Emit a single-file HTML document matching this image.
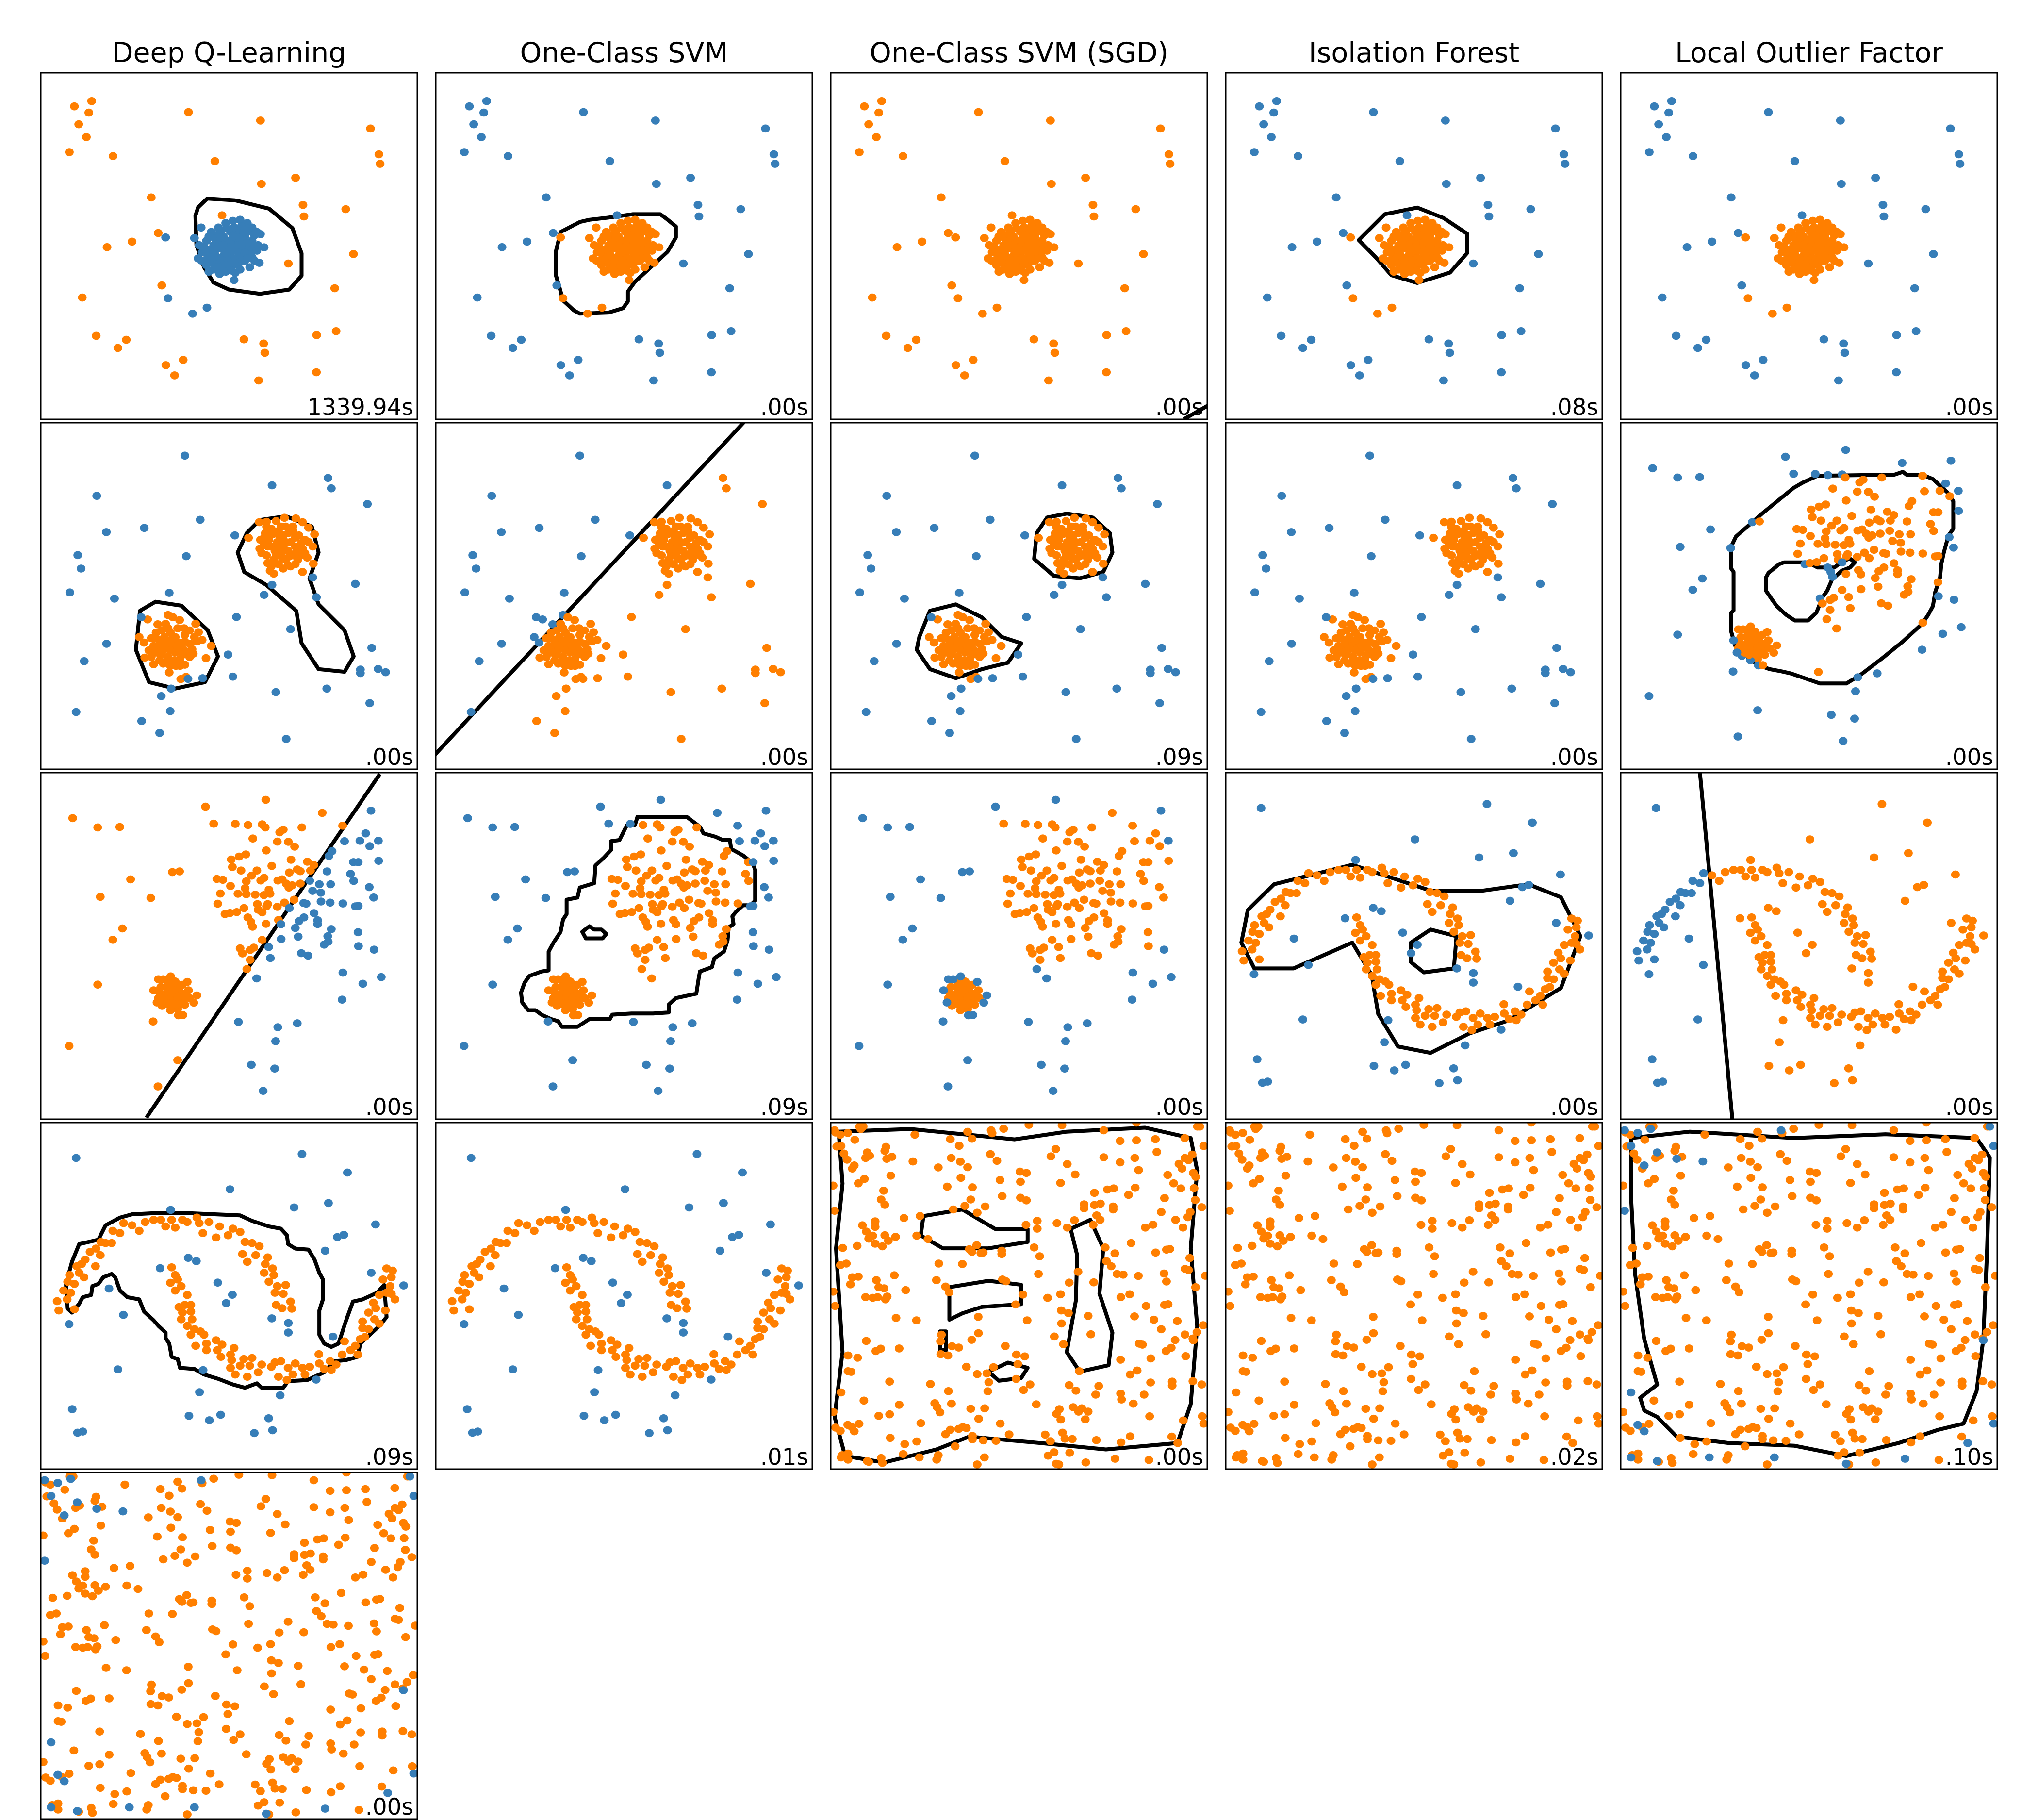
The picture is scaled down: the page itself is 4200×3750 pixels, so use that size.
<!DOCTYPE html>
<html><head><meta charset="utf-8"><title>Outlier detection comparison</title>
<style>
html,body{margin:0;padding:0;background:#fff;}
svg{display:block;}
text{font-family:"DejaVu Sans","Liberation Sans",sans-serif;fill:#000;}
</style></head>
<body>
<svg id="fig" xmlns="http://www.w3.org/2000/svg" width="4200" height="3750" viewBox="0 0 4200 3750">
<rect x="0" y="0" width="4200" height="3750" fill="#fff"/>
<text x="472" y="128" font-size="57" text-anchor="middle">Deep Q-Learning</text>
<text x="1286" y="128" font-size="57" text-anchor="middle">One-Class SVM</text>
<text x="2100" y="128" font-size="57" text-anchor="middle">One-Class SVM (SGD)</text>
<text x="2914" y="128" font-size="57" text-anchor="middle">Isolation Forest</text>
<text x="3728" y="128" font-size="57" text-anchor="middle">Local Outlier Factor</text>
<g id="panels"></g>
</svg>
<script>
// ---- data (units: 0..1568 along each axis; y measured downward) ----
const d1Inliers=[[640,748],[660,780],[672,812],[655,840],[690,870],[700,900],[745,910],[760,890],[720,860],[705,820],[690,760],[710,720],[740,700],[770,680],[800,670],[830,665],[860,680],[880,700],[900,720],[915,730],[930,790],[905,780],[880,760],[850,740],[820,720],[790,720],[760,740],[740,770],[760,800],[790,820],[820,800],[850,790],[870,820],[890,850],[910,860],[850,850],[820,870],[790,880],[750,860],[780,760],[810,760],[730,800],[700,800],[760,830],[830,830],[800,790],[780,850],[860,720],[740,730],[720,780],[668,700],[870,880],[810,905],[632,1090],[692,1063],[530,1020],[805,938],[520,745],[775,780],[745,840],[810,840],[840,760],
[700,740],[725,750],[750,715],[775,705],[805,700],[835,695],[865,705],[890,735],[895,790],[875,790],[860,770],[835,775],[815,780],[790,770],[765,765],[745,790],[720,810],[715,835],[735,845],[770,815],[795,805],[825,815],[850,815],[880,835],[860,840],[835,855],[805,860],[770,870],[740,880],[720,890],[770,900],[795,895],[830,890],[680,790],[670,850],[695,845],[750,745],[820,745],[845,720],[800,740],[780,790],[760,780],[730,830],[685,815],[900,805]];
const d1Outliers=[[140,152],[212,128],[200,180],[158,233],[190,291],[119,359],[301,377],[615,178],[915,216],[725,400],[919,503],[1061,475],[1373,252],[1408,369],[1413,412],[460,564],[1092,598],[1096,650],[1270,617],[489,725],[380,764],[276,789],[1302,820],[1031,863],[1224,975],[173,1017],[504,962],[231,1190],[356,1208],[321,1245],[846,1206],[928,1225],[933,1267],[1149,1187],[1230,1169],[593,1299],[521,1323],[557,1369],[1148,1355],[907,1392],[755,645]];
const d2Inliers=[[910,450],[940,448],[980,445],[1015,430],[1062,433],[1090,450],[1115,475],[1140,505],[1133,560],[1110,610],[1135,638],[1090,675],[1040,650],[1030,645],[970,683],[955,670],[945,635],[920,590],[912,570],[915,530],[935,500],[865,521],[960,480],[990,490],[1020,470],[1050,490],[1075,510],[1100,530],[1090,570],[1070,620],[1050,600],[1020,620],[990,640],[980,600],[960,560],[950,530],[985,540],[1010,560],[1040,540],[1060,560],[1000,590],[1030,580],[1010,510],[970,620],[1080,600],
[940,470],[965,505],[995,515],[1030,500],[1060,520],[1085,545],[1065,585],[1035,605],[1005,610],[975,580],[945,560],[930,545],[940,600],[990,570],[1020,540],[1050,470],[1000,470],[960,650],[1010,660],[1060,640],[1100,590],[1115,540],[930,520],[1000,540],
[410,970],[445,890],[530,870],[550,880],[578,893],[487,912],[520,910],[597,930],[645,910],[657,948],[672,983],[710,1010],[688,1065],[635,1045],[600,1095],[563,1100],[535,1130],[470,1093],[433,1063],[450,1030],[430,995],[460,975],[480,950],[505,990],[540,950],[560,970],[600,960],[620,1000],[590,1020],[560,1040],[530,1060],[500,1050],[490,1020],[520,1010],[550,1005],[580,1070],[510,1090],[620,1060],[650,990],[470,1010],[583,1160],[605,1150],
[505,940],[530,930],[570,930],[620,940],[640,970],[600,990],[575,995],[540,985],[515,970],[495,1000],[480,1040],[510,1030],[540,1030],[570,1020],[605,1035],[630,1025],[590,1050],[555,1075],[525,1085],[495,1075],[460,1060],[540,1100],[580,1100],[480,975]];
const d2Outliers=[[600,149],[963,283],[1196,250],[1210,297],[1360,368],[233,331],[664,439],[431,476],[273,495],[808,510],[154,599],[168,660],[606,604],[121,768],[307,796],[535,770],[963,734],[930,779],[1133,700],[1148,790],[1310,729],[418,880],[815,879],[1040,934],[274,1000],[181,1079],[780,1049],[1378,1019],[1331,1117],[1331,1133],[1405,1114],[1436,1129],[613,1159],[674,1156],[800,1149],[543,1203],[502,1237],[979,1219],[1191,1203],[1370,1269],[147,1309],[539,1305],[420,1350],[495,1404],[1022,1431]];
const d3Inliers=[[500,970],[530,950],[560,945],[590,960],[615,985],[620,1020],[600,1050],[570,1070],[540,1075],[505,1055],[490,1020],[495,995],[530,990],[560,990],[590,1000],[580,1030],[550,1030],[520,1025],[545,1010],[570,1015],[515,1040],[555,965],[600,1020],[525,970],[575,975],[605,1000],[510,1010],[535,1050],[565,1050],[585,1045],[550,985],
[720,231],[810,232],[863,237],[922,234],[935,248],[995,270],[1010,258],[1087,248],[1172,182],[1257,240],[1353,275],[1265,310],[1329,308],[1370,333],[1407,399],[883,298],[985,312],[1031,313],[1057,335],[939,352],[1213,355],[1200,377],[854,370],[826,380],[793,393],[798,427],[834,443],[900,443],[962,422],[1042,394],[1110,403],[1137,418],[1123,443],[1068,438],[1035,452],[1081,446],[1192,447],[1302,405],[1322,405],[1290,458],[1303,490],[1368,518],[1386,565],[733,481],[758,485],[790,513],[856,492],[878,466],[916,488],[930,476],[987,488],[1005,483],[1022,502],[1047,510],[1081,502],[1120,489],[1160,505],[1207,505],[1132,535],[1166,543],[748,547],[821,548],[851,523],[856,550],[893,552],[929,554],[955,548],[950,530],[1033,520],[737,593],[767,640],[788,635],[816,631],[846,613],[902,595],[905,620],[940,605],[945,595],[985,607],[1015,588],[1035,613],[1055,575],[1095,590],[1105,593],[1167,583],[1205,588],[1258,592],[1310,605],[1322,603],[862,655],[875,675],[882,697],[922,632],[938,684],[990,667],[1000,686],[1060,703],[1075,672],[1096,655],[1138,636],[1153,668],[1153,685],[1210,708],[1195,740],[1197,765],[1180,778],[1321,722],[1323,785],[922,757],[1001,753],[1072,742],[949,789],[830,795],[840,818],[872,802],[887,792],[872,847],[956,839],[1085,817],[1113,828]];
const d3Outliers=[[133,206],[237,248],[329,246],[686,154],[937,123],[1375,172],[1406,308],[548,450],[578,447],[374,483],[248,562],[458,567],[340,705],[300,756],[1388,801],[858,889],[899,931],[1258,905],[1341,955],[1418,925],[1255,1027],[237,959],[468,1126],[823,1128],[987,1152],[1068,1134],[978,1215],[118,1237],[570,1301],[877,1322],[974,1339],[488,1420],[926,1440],[490,935],[510,935],[541,922],[610,947],[470,985],[650,1008],[484,1040],[637,1041],[573,1098],[592,1097]];
const d4Inliers=[[68,808],[75,850],[110,800],[125,770],[120,690],[112,720],[140,730],[150,650],[170,640],[180,700],[205,585],[230,570],[248,600],[250,540],[270,545],[295,545],[300,490],[330,500],[345,455],[380,465],[410,490],[435,450],[470,440],[500,440],[520,470],[545,440],[560,475],[590,440],[610,450],[650,430],[660,455],[675,500],[700,450],[730,520],[745,470],[780,510],[800,480],[830,495],[850,540],[880,545],[895,600],[910,560],[860,630],[840,595],[945,610],[935,640],[965,660],[930,680],[970,690],[950,720],[985,740],[1020,735],[975,770],[1010,775],[980,825],[1040,810],[1005,840],[1045,842],[228,650],[185,620],[95,760],[160,680],[140,845],
[545,655],[560,690],[540,725],[570,710],[585,740],[560,760],[610,780],[575,835],[600,825],[625,825],[590,860],[625,855],[585,890],[630,890],[610,920],[640,935],[625,960],[665,945],[680,960],[645,1010],[690,1000],[690,1030],[730,985],[735,1030],[755,1005],[750,1060],[790,1050],[805,1020],[795,1075],[845,1070],[830,1100],[880,1065],[870,1100],[860,1150],[790,1110],[810,1140],[920,1095],[905,1130],[960,1105],[975,1085],[990,1150],[1000,1080],[1030,1110],[1025,1165],[1060,1090],[1050,1140],[1090,1110],[1120,1105],[1100,1140],[1160,1090],[1180,1115],[1205,1080],[1230,1095],[1210,1120],[1255,1050],[1290,1030],[1265,990],[1310,1010],[1320,1050],[1330,980],[1350,970],[1340,930],[1365,935],[1340,900],[1365,860],[1390,890],[1410,910],[1395,840],[1435,850],[1385,815],[1410,780],[1440,770],[1460,775],[1475,800],[1425,710],[1455,740],[1440,660],[1465,670],[1460,700],[1158,1048]];
const d4Outliers=[[147,160],[1088,142],[1277,226],[788,302],[1198,364],[1055,384],[1394,461],[1235,518],[1262,508],[1184,580],[614,612],[648,627],[497,659],[1376,680],[737,724],[798,779],[772,817],[284,751],[344,870],[118,912],[962,886],[1031,907],[1031,950],[1217,969],[1511,737],[321,1117],[676,1120],[1147,1163],[661,1220],[997,1234],[131,1297],[617,1327],[702,1347],[749,1322],[949,1338],[153,1403],[175,1398],[889,1405],[965,1392],[541,395]];
const d5Inliers=[[20,45],[40,55],[100,78],[120,18],[135,18],[25,108],[55,140],[68,168],[90,208],[350,55],[230,110],[225,128],[255,155],[145,160],[162,150],[250,240],[140,255],[115,275],[10,285],[220,308],[210,348],[225,372],[498,75],[535,105],[570,42],[588,73],[502,160],[540,177],[570,202],[448,203],[542,250],[485,290],[590,293],[583,348],[558,377],[510,393],[643,380],[610,408],[672,48],[720,28],[665,143],[692,173],[705,260],[714,333],[825,10],[963,12],[788,222],[815,228],[790,268],[790,340],[815,352],[937,120],[917,153],[985,188],[1018,235],[957,273],[1137,35],[1273,0],[1205,83],[1273,80],[1352,75],[1474,70],[1527,18],[1137,157],[1205,180],[1266,160],[1282,215],[1358,133],[1450,187],[1475,160],[1505,145],[1490,170],[1463,208],[1403,237],[1428,275],[1510,228],[1520,245],[1513,297],[1458,298],[1268,295],[1240,327],[1178,298],[1152,303],[1098,318],[1055,370],[1055,388],[1098,373],[1123,367],[1176,380],[1176,393],[1390,342],[1518,350],[1545,383],[1376,405],[1497,405],[1487,428],[1436,440],[1467,475],[1310,475],[1342,462],[1107,420],[1122,440],[1093,463],[1015,442],[985,475],[942,455],[860,445],[860,480],[813,463],[305,432],[372,423],[185,447],[185,472],[132,465],[148,493],[175,512],[158,525],[185,548],[225,510],[240,535],[215,560],[270,517],[110,558],[50,567],[358,512],[405,527],[40,645],[65,638],[608,555],[577,573],[588,585],[625,590],[635,588],[712,580],[712,595],[847,565],[870,605],[1143,565],[1183,592],[1251,545],[1353,588],[1398,575],[1412,572],[1495,613],[1148,627],[1168,650],[1192,685],[1218,688],[1281,694],[1475,662],[1490,667],[1388,683],[1398,719],[1519,745],[1560,693],[450,638],[548,640],[1030,675],[865,685],[993,724],[1095,723],[90,700],[115,697],[82,732],[190,713],[200,745],[222,750],[265,691],[312,758],[440,713],[478,742],[493,768],[715,710],[730,718],[145,790],[175,793],[195,790],[235,787],[228,800],[10,765],[18,830],[800,778],[770,823],[903,793],[957,777],[1208,790],[1245,777],[1313,830],[1390,825],[1405,822],[272,884],[357,895],[614,879],[818,895],[960,850],[990,862],[1072,875],[1265,877],[1346,892],[1443,898],[1376,935],[1551,917],[961,909],[461,960],[457,990],[615,953],[587,983],[148,988],[188,1034],[208,1023],[285,1022],[505,1012],[533,1018],[458,1048],[488,1054],[727,1011],[931,968],[969,1003],[1083,958],[1285,1000],[1298,1005],[1396,1034],[1418,1019],[1434,984],[1475,959],[1508,977],[1525,948],[72,1054],[112,1064],[1478,1057],[1333,1067],[1207,1073],[773,1050],[808,1058],[779,1093],[565,1105],[610,1138],[650,1135],[678,1107],[658,1175],[654,1216],[72,1125],[85,1128],[245,1172],[415,1183],[490,1215],[772,1160],[830,1185],[803,1210],[1035,1125],[993,1188],[1021,1213],[1116,1192],[1103,1231],[1247,1140],[1276,1122],[1332,1176],[1422,1172],[1422,1190],[1508,1170],[1545,1185],[138,1258],[285,1277],[433,1270],[443,1288],[455,1311],[503,1272],[583,1295],[641,1293],[616,1340],[856,1275],[1207,1226],[1211,1253],[1305,1231],[1260,1272],[952,1297],[940,1318],[958,1344],[1010,1288],[1032,1308],[1045,1293],[1072,1308],[1060,1343],[10,1310],[20,1380],[40,1395],[88,1378],[118,1363],[200,1327],[245,1320],[375,1360],[706,1362],[478,1410],[498,1390],[533,1386],[550,1378],[565,1382],[590,1418],[590,1433],[635,1438],[688,1440],[743,1411],[893,1412],[915,1442],[965,1403],[975,1430],[1006,1432],[1106,1437],[1209,1447],[1247,1420],[1328,1329],[1468,1348],[1547,1329],[1420,1421],[248,1427],[308,1455],[358,1443],[518,1465],[48,1505],[72,1498],[72,1525],[158,1535],[210,1518],[215,1540],[302,1500],[441,1525],[448,1505],[610,1547],[905,1507],[930,1492],[950,1547],[995,1494],[1062,1538],[1325,1527]];
const d5Outliers=[[16,35],[71,47],[125,29],[43,106],[152,135],[233,164],[98,194],[16,399],[43,1221],[71,1368],[98,1397],[43,1515],[152,1532],[369,1515],[640,1515],[939,1544],[1537,18],[1553,106],[1510,985],[1553,1362],[1445,1450],[1184,1521],[668,35],[342,176]];

// decision contours (same units)
const contourP1=[[[655,609],[693,569],[809,577],[951,615],[1048,703],[1086,817],[1086,918],[1035,981],[912,1000],[784,981],[719,949],[680,880],[648,779],[644,647]]];
const contourP2=[[[500,810],[520,720],[600,675],[640,665],[720,655],[820,640],[935,640],[960,660],[1000,695],[1000,745],[965,810],[830,945],[800,990],[800,1035],[780,1065],[720,1085],[600,1090],[575,1075],[530,1030],[515,970],[500,915]]];
const contourP4=[[[554,757],[662,640],[798,610],[907,657],[1005,728],[1005,816],[934,904],[798,951],[690,916],[624,834]]];
const contourP6=[[[413,851],[478,810],[586,828],[695,939],[738,1057],[684,1174],[559,1203],[451,1174],[396,1027]],[[858,499],[912,440],[1021,423],[1129,470],[1157,587],[1119,705],[1157,822],[1265,939],[1303,1057],[1265,1127],[1157,1115],[1086,998],[1064,851],[939,734],[847,675],[820,587]]];
const contourP8=[[[858,499],[901,429],[983,411],[1091,429],[1162,499],[1173,587],[1135,675],[1037,704],[929,693],[847,616]],[[369,969],[413,851],[521,822],[630,881],[711,969],[793,998],[738,1086],[630,1115],[521,1156],[413,1115],[358,1027]]];
const contourP10=[[[460,560],[480,515],[590,410],[720,295],[760,270],[820,240],[1140,235],[1175,222],[1190,235],[1255,235],[1300,255],[1360,315],[1385,355],[1385,480],[1365,510],[1345,590],[1335,640],[1330,700],[1310,765],[1300,830],[1280,870],[1255,910],[1175,990],[1090,1065],[1000,1140],[940,1180],[830,1180],[790,1165],[710,1135],[670,1125],[620,1115],[570,1095],[480,1020],[460,945],[460,860],[470,850],[470,675],[460,660]],[[605,700],[615,680],[660,640],[680,632],[780,632],[820,655],[890,655],[925,625],[955,615],[975,632],[955,655],[920,670],[880,710],[860,760],[840,790],[815,860],[780,895],[725,895],[690,870],[650,830],[630,800],[605,760]]];
const contourP12=[[[840,200],[1045,200],[1100,245],[1115,275],[1165,290],[1195,305],[1225,305],[1230,345],[1280,375],[1320,410],[1330,440],[1330,580],[1310,600],[1280,600],[1250,630],[1235,650],[1240,685],[1220,700],[1215,760],[1200,810],[1160,840],[1150,880],[1100,900],[1095,930],[1085,1000],[1000,1020],[970,1050],[970,1085],[905,1090],[815,1090],[735,1095],[725,1115],[640,1115],[590,1150],[525,1150],[510,1125],[480,1115],[440,1095],[415,1075],[385,1075],[360,1040],[355,995],[370,950],[390,920],[440,900],[470,895],[470,810],[490,770],[520,720],[530,665],[545,640],[545,575],[590,565],[600,520],[660,500],[665,420],[700,385],[730,350],[730,310],[765,305],[795,240],[830,235]],[[610,720],[640,695],[660,710],[690,710],[710,730],[695,750],[625,750]]];
const contourP14=[[[92,622],[201,505],[527,417],[853,534],[1070,534],[1260,505],[1396,564],[1477,740],[1396,974],[1178,1121],[1015,1180],[853,1268],[717,1239],[635,1092],[608,916],[527,769],[282,886],[119,886],[65,769]],[[771,769],[853,710],[961,740],[950,886],[825,904],[771,857]]];
const contourP16=[[[110,840],[105,730],[130,630],[160,550],[240,530],[270,465],[330,430],[380,415],[470,410],[620,410],[830,420],[880,445],[950,470],[1000,480],[1025,510],[1030,550],[1060,570],[1115,575],[1140,620],[1160,680],[1175,710],[1175,800],[1160,850],[1160,960],[1180,1000],[1210,1015],[1240,1000],[1270,900],[1300,810],[1340,800],[1400,770],[1430,735],[1440,880],[1410,920],[1390,940],[1330,1000],[1320,1060],[1270,1075],[1220,1080],[1180,1130],[1110,1165],[1030,1170],[1010,1200],[920,1200],[900,1180],[850,1200],[800,1185],[740,1160],[680,1140],[640,1115],[580,1110],[570,1070],[545,1060],[535,1000],[520,975],[520,950],[490,920],[470,895],[430,855],[410,800],[360,790],[330,760],[310,700],[295,685],[260,700],[240,730],[215,740],[210,780],[175,790],[160,820],[130,860]]];
const contourP18=[[[33,41],[331,29],[766,76],[983,41],[1309,23],[1499,70],[1526,217],[1499,569],[1526,922],[1499,1274],[1444,1450],[1146,1479],[874,1450],[576,1421],[440,1479],[223,1538],[60,1509],[16,1332],[49,1039],[22,569],[49,276]],[[386,423],[548,393],[684,481],[820,481],[820,540],[657,569],[467,569],[375,511]],[[494,745],[657,716],[793,734],[793,822],[630,834],[548,863],[494,892]],[[999,481],[1081,440],[1135,569],[1119,774],[1173,951],[1157,1098],[1037,1127],[983,1039],[1021,804],[1026,599]],[[657,1127],[738,1086],[820,1110],[793,1156],[700,1168]],[[455,945],[480,945],[480,1030],[455,1030]]];
const contourP20=[[[43,70],[288,41],[722,70],[1102,53],[1482,70],[1537,158],[1526,569],[1510,980],[1482,1215],[1428,1362],[1319,1391],[1157,1450],[939,1509],[722,1462],[451,1450],[233,1421],[152,1332],[98,1303],[81,1245],[152,1186],[98,980],[60,686],[43,334]]];
const lineP3=[[1471,1567],[1575,1503]];
const lineP7=[[-40,1545],[1300,-22]];
const lineP11=[[440,1561],[1412,6]];
const lineP15=[[330,0],[465,1568]];

const panelTimes=["1339.94s",".00s",".00s",".08s",".00s",".00s",".00s",".09s",".00s",".00s",".00s",".09s",".00s",".00s",".00s",".09s",".01s",".00s",".02s",".10s",".00s"];

// ---- layout ----
const colLeft=[84,898,1712,2526,3340], rowTop=[150,871,1592,2313,3034];
const PW=776, PH=714, U=1568;
const datasets={
  d1:[d1Inliers,d1Outliers], d2:[d2Inliers,d2Outliers], d3:[d3Inliers,d3Outliers],
  d4:[d4Inliers,d4Outliers], d5:[d5Inliers,d5Outliers]
};
const panels=[
 {ds:'d1',rule:'inv',c:contourP1},{ds:'d1',rule:'std',c:contourP2},{ds:'d1',rule:'all',line:lineP3},{ds:'d1',rule:'std',c:contourP4},{ds:'d1',rule:'std'},
 {ds:'d2',rule:'std',c:contourP6},{ds:'d2',rule:'line',line:lineP7,ref:[1500,1500]},{ds:'d2',rule:'std',c:contourP8},{ds:'d2',rule:'std'},{ds:'d3',rule:'poly',c:contourP10},
 {ds:'d3',rule:'line',line:lineP11,ref:[0,0]},{ds:'d3',rule:'poly',c:contourP12},{ds:'d3',rule:'std'},{ds:'d4',rule:'std',c:contourP14},{ds:'d4',rule:'line',line:lineP15,ref:[1568,800]},
 {ds:'d4',rule:'std',c:contourP16},{ds:'d4',rule:'std'},{ds:'d5',rule:'all',c:contourP18},{ds:'d5',rule:'all'},{ds:'d5',rule:'std',c:contourP20},
 {ds:'d5',rule:'std'}
];
const BLUE='#377eb8', ORANGE='#ff7f00';
const NS='http://www.w3.org/2000/svg';
function inPoly(p,poly){let c=false;for(let i=0,j=poly.length-1;i<poly.length;j=i++){const [xi,yi]=poly[i],[xj,yj]=poly[j];if(((yi>p[1])!=(yj>p[1]))&&(p[0]<(xj-xi)*(p[1]-yi)/(yj-yi)+xi))c=!c;}return c;}
function side(l,p){return (l[1][0]-l[0][0])*(p[1]-l[0][1])-(l[1][1]-l[0][1])*(p[0]-l[0][0]);}
const root=document.getElementById('panels');
panels.forEach((pn,k)=>{
  const col=k%5,row=Math.floor(k/5);
  const L=colLeft[col],T=rowTop[row];
  const sx=u=>L+u*PW/U, sy=v=>T+v*PH/U;
  const g=document.createElementNS(NS,'g');
  
  
  const cp=document.createElementNS(NS,'clipPath');cp.setAttribute('id','clip'+k);
  const cr=document.createElementNS(NS,'rect');cr.setAttribute('x',L);cr.setAttribute('y',T);cr.setAttribute('width',PW);cr.setAttribute('height',PH);
  cp.appendChild(cr);g.appendChild(cp);
  const inner=document.createElementNS(NS,'g');inner.setAttribute('clip-path','url(#clip'+k+')');
  g.appendChild(inner);
  if(pn.c){pn.c.forEach((poly,ci)=>{
    const pa=document.createElementNS(NS,'path');
    pa.setAttribute('d','M'+poly.map(p=>sx(p[0]).toFixed(1)+','+sy(p[1]).toFixed(1)).join('L')+'Z');
    pa.setAttribute('fill','none');pa.setAttribute('stroke','#000');pa.setAttribute('stroke-width','8');pa.setAttribute('stroke-linejoin','round');
    
    
    inner.appendChild(pa);});}
  if(pn.line){
    const ln=document.createElementNS(NS,'line');
    ln.setAttribute('x1',sx(pn.line[0][0]));ln.setAttribute('y1',sy(pn.line[0][1]));ln.setAttribute('x2',sx(pn.line[1][0]));ln.setAttribute('y2',sy(pn.line[1][1]));
    ln.setAttribute('stroke','#000');ln.setAttribute('stroke-width','8');
    
    
    inner.appendChild(ln);}
  const [ins,outs]=datasets[pn.ds];
  const pts=ins.map(p=>[p,true]).concat(outs.map(p=>[p,false]));
  pts.forEach(([p,isIn])=>{
    let orange;
    if(pn.rule==='std')orange=isIn;
    else if(pn.rule==='inv')orange=!isIn;
    else if(pn.rule==='all')orange=true;
    else if(pn.rule==='poly'){let c=0;pn.c.forEach(poly=>{if(inPoly(p,poly))c++;});orange=(c%2===1);}
    else if(pn.rule==='line'){orange=Math.sign(side(pn.line,p))===Math.sign(side(pn.line,pn.ref));}
    const e=document.createElementNS(NS,'ellipse');
    e.setAttribute('cx',sx(p[0]).toFixed(1));e.setAttribute('cy',sy(p[1]).toFixed(1));
    e.setAttribute('rx','9');e.setAttribute('ry','8.3');
    e.setAttribute('fill',orange?ORANGE:BLUE);
    
    
    inner.appendChild(e);
  });
  const fr=document.createElementNS(NS,'rect');
  fr.setAttribute('x',L);fr.setAttribute('y',T);fr.setAttribute('width',PW);fr.setAttribute('height',PH);
  fr.setAttribute('fill','none');fr.setAttribute('stroke','#000');fr.setAttribute('stroke-width','3');
  
  
  g.appendChild(fr);
  const tx=document.createElementNS(NS,'text');
  tx.setAttribute('x',L+PW-8);tx.setAttribute('y',T+PH-9);tx.setAttribute('font-size','47');tx.setAttribute('text-anchor','end');
  tx.textContent=panelTimes[k];
  
  
  g.appendChild(tx);
  root.appendChild(g);
});
</script>
</body></html>
